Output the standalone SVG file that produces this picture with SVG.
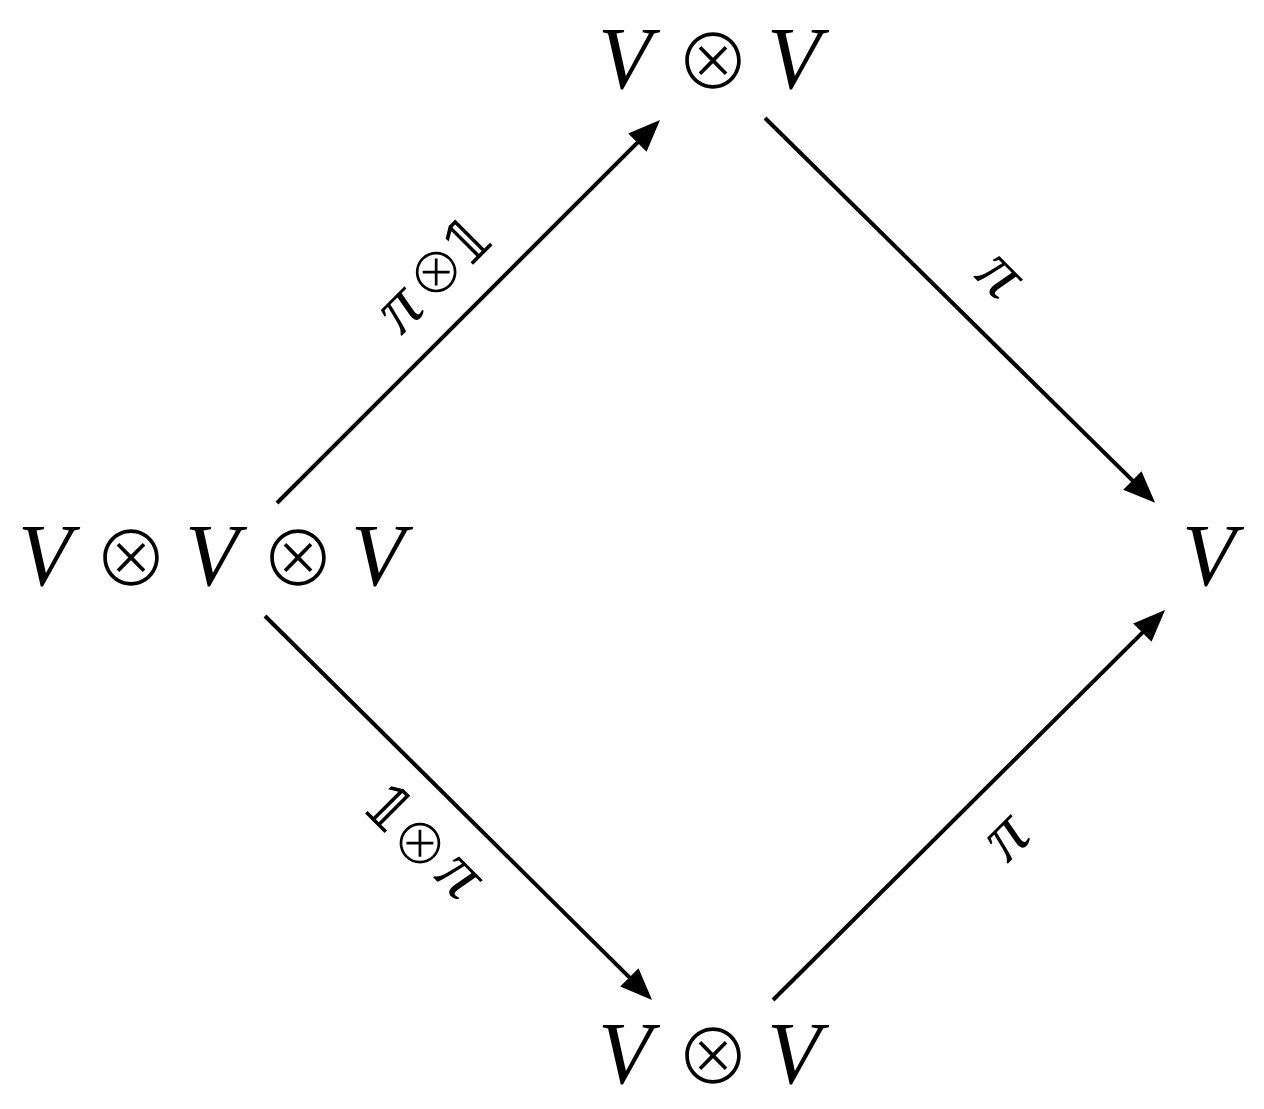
<svg xmlns="http://www.w3.org/2000/svg" width="1264" height="1109" viewBox="0 0 1264 1109">
<style>
.v{font-size:88px;fill:#000;text-anchor:middle}
.o{font-size:75px;font-weight:300;fill:#000;text-anchor:middle}
.pi{font-size:72px;fill:#000;text-anchor:middle}
.op{font-size:55px;font-weight:300;fill:#000;text-anchor:middle}
.one{font-size:60px;fill:#000;text-anchor:middle}
.edge{stroke:#000;stroke-width:4;fill:none;marker-end:url(#ah)}
</style>
<defs>
<marker id="ah" viewBox="0 0 32 26" refX="4" refY="13" markerWidth="32" markerHeight="26" markerUnits="userSpaceOnUse" orient="auto">
<path d="M0,0 L32,13 L0,26 z" fill="#000"/>
</marker>
</defs>
<rect width="1264" height="1109" fill="#fff"/>
<g id="connectors">
<path class="edge" d="M277,503 L640.2,139.8"/>
<path class="edge" d="M765,118 L1135.2,483.2"/>
<path class="edge" d="M265,616 L632.2,980.2"/>
<path class="edge" d="M773,1000 L1145.2,629.8"/>
<g transform="translate(436,272) rotate(-45)">
<text class="pi" x="-52" y="21" font-family="Liberation Serif, serif" font-style="italic">π</text>
<text class="op" x="0" y="21" font-family="Noto Sans CJK SC, sans-serif">⊗</text>
<text class="one" x="44" y="21" font-family="DejaVu Serif, serif">𝟙</text>
</g>
<g transform="translate(420,843) rotate(45)">
<text class="one" x="-47" y="18" font-family="DejaVu Serif, serif">𝟙</text>
<text class="op" x="0" y="21" font-family="Noto Sans CJK SC, sans-serif">⊗</text>
<text class="pi" x="51" y="15" font-family="Liberation Serif, serif" font-style="italic">π</text>
</g>
<text class="pi" transform="translate(997,278) rotate(45)" y="16" font-family="Liberation Serif, serif" font-style="italic">π</text>
<text class="pi" transform="translate(1009,840) rotate(-45)" y="16" font-family="Liberation Serif, serif" font-style="italic">π</text>
</g>
<g id="node-top">
<text class="v" x="625" y="88" font-family="Liberation Serif, serif" font-style="italic">V</text>
<text class="o" x="713" y="89" font-family="Noto Sans CJK SC, sans-serif">⊗</text>
<text class="v" x="794" y="88" font-family="Liberation Serif, serif" font-style="italic">V</text>
</g>
<g id="node-left">
<text class="v" x="45" y="585" font-family="Liberation Serif, serif" font-style="italic">V</text>
<text class="o" x="131" y="586" font-family="Noto Sans CJK SC, sans-serif">⊗</text>
<text class="v" x="212" y="585" font-family="Liberation Serif, serif" font-style="italic">V</text>
<text class="o" x="298" y="586" font-family="Noto Sans CJK SC, sans-serif">⊗</text>
<text class="v" x="378" y="585" font-family="Liberation Serif, serif" font-style="italic">V</text>
</g>
<g id="node-right">
<text class="v" x="1209" y="585" font-family="Liberation Serif, serif" font-style="italic">V</text>
</g>
<g id="node-bottom">
<text class="v" x="625" y="1083" font-family="Liberation Serif, serif" font-style="italic">V</text>
<text class="o" x="713" y="1084" font-family="Noto Sans CJK SC, sans-serif">⊗</text>
<text class="v" x="794" y="1083" font-family="Liberation Serif, serif" font-style="italic">V</text>
</g>
</svg>
